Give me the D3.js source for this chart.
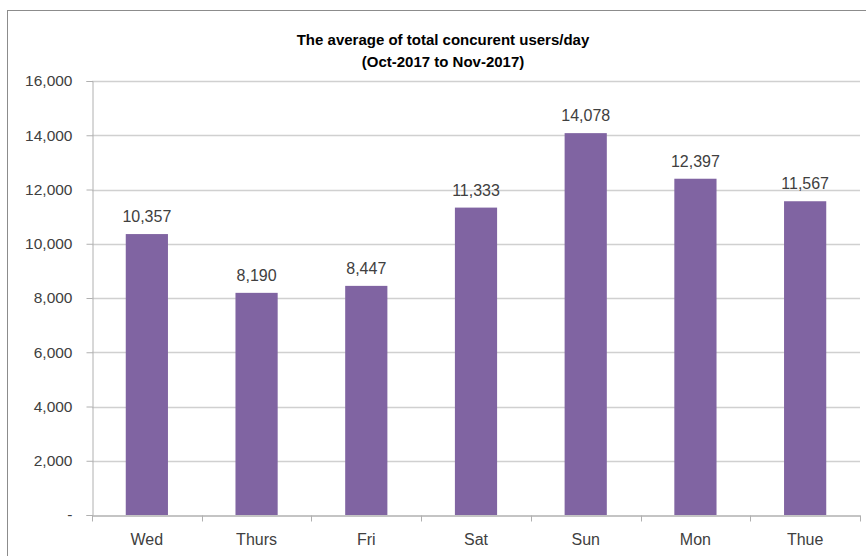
<!DOCTYPE html>
<html>
<head>
<meta charset="utf-8">
<script src="https://cdn.jsdelivr.net/npm/d3@7"></script>
<style>
  body { margin: 0; background: #fff; }
</style>
</head>
<body>
<script>
// chart values
const days = ['Wed', 'Thurs', 'Fri', 'Sat', 'Sun', 'Mon', 'Thue'];
const users = [10357, 8190, 8447, 11333, 14078, 12397, 11567];
const yTicks = [0, 2000, 4000, 6000, 8000, 10000, 12000, 14000, 16000];
const titleLines = ['The average of total concurent users/day', '(Oct-2017 to Nov-2017)'];

const width = 866;
const height = 556;
const margin = ({top: 81, right: 6, bottom: 41, left: 92});
const font = 'Liberation Sans, Arial, sans-serif';
const textColor = '#404040';

const svg = d3.select('body')
              .append('svg')
              .attr('width', width)
              .attr('height', height);

// chart frame (runs past right and bottom edges)
svg.append('rect')
   .attr('x', 7.5)
   .attr('y', 10.5)
   .attr('width', 880)
   .attr('height', 570)
   .attr('fill', '#fff')
   .attr('stroke', '#8c8c8c');

const xScale = d3.scaleBand()
                 .domain(days)
                 .range([margin.left, width - margin.right]);

const yScale = d3.scaleLinear()
                 .domain([0, 16000])
                 .range([height - margin.bottom, margin.top]);

// gridlines
svg.append('g')
   .selectAll('line')
   .data(yTicks.filter(d => d > 0))
   .join('line')
   .attr('x1', margin.left)
   .attr('x2', width - margin.right)
   .attr('y1', d => Math.round(yScale(d)) + 0.5)
   .attr('y2', d => Math.round(yScale(d)) + 0.5)
   .attr('stroke', '#d0d0d0')
   .attr('stroke-width', 1.5);

// bars, gap width ~160%
const barW = xScale.bandwidth() / 2.6;
svg.append('g')
   .selectAll('rect')
   .data(users)
   .join('rect')
   .attr('x', (d, i) => xScale(days[i]) + (xScale.bandwidth() - barW) / 2)
   .attr('y', d => yScale(d))
   .attr('width', barW)
   .attr('height', d => yScale(0) - yScale(d))
   .attr('fill', '#8064a2');

// value labels
svg.append('g')
   .selectAll('text')
   .data(users)
   .join('text')
   .attr('x', (d, i) => xScale(days[i]) + xScale.bandwidth() / 2)
   .attr('y', d => yScale(d) - 12)
   .attr('text-anchor', 'middle')
   .attr('font-family', font)
   .attr('font-size', 16)
   .attr('fill', textColor)
   .text(d => d3.format(',')(d));

// Y axis
const yAxis = d3.axisLeft(yScale)
                .tickValues(yTicks)
                .tickSize(6)
                .tickPadding(14)
                .tickFormat(d => d === 0 ? '-' : d3.format(',')(d));

svg.append('g')
   .attr('transform', `translate(${margin.left + 0.5},0)`)
   .call(yAxis)
   .call(g => g.select('.domain').attr('stroke', '#b0b0b0'))
   .call(g => g.selectAll('.tick line').attr('stroke', '#b0b0b0'))
   .selectAll('text')
   .attr('font-family', font)
   .attr('font-size', 15.5)
   .attr('fill', textColor);

// X axis
const xAxis = d3.axisBottom(xScale).tickSize(0).tickPadding(18);

const xg = svg.append('g')
   .attr('transform', `translate(0,${Math.round(yScale(0)) + 0.5})`)
   .call(xAxis);
xg.select('.domain').attr('stroke', '#b0b0b0').attr('stroke-width', 1.5);
xg.selectAll('text')
  .attr('font-family', font)
  .attr('font-size', 16)
  .attr('fill', textColor);

// category separators
xg.append('g')
  .selectAll('line')
  .data(days.map(d => xScale(d)).concat([width - margin.right]))
  .join('line')
  .attr('x1', d => Math.round(d) + 0.5)
  .attr('x2', d => Math.round(d) + 0.5)
  .attr('y1', 0)
  .attr('y2', 6)
  .attr('stroke', '#b0b0b0');

// title
svg.append('g')
   .selectAll('text')
   .data(titleLines)
   .join('text')
   .attr('x', 443)
   .attr('y', (d, i) => 45 + i * 22)
   .attr('text-anchor', 'middle')
   .attr('font-family', 'Liberation Sans Narrow, ' + font)
   .attr('font-weight', 'bold')
   .attr('font-size', 15)
   .attr('fill', '#000')
   .text(d => d);
</script>
</body>
</html>
